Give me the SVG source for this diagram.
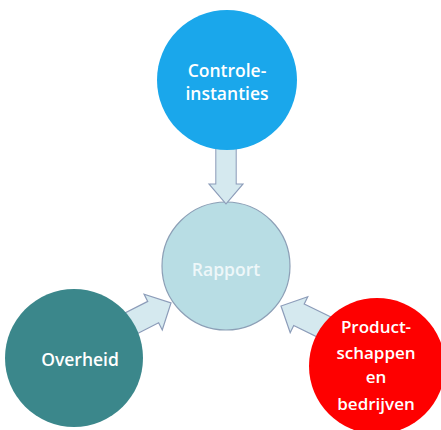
<svg xmlns="http://www.w3.org/2000/svg" width="441" height="430" viewBox="0 0 441 430">
  <defs>
    <!-- block arrow pointing along +x, tip at origin -->
    <polygon id="arrowShape" points="-60,-12 -20,-12 -20,-20 0,0 -20,20 -20,12 -60,12"/>
    <style>
      .arrow { fill: #d5e9ef; stroke: #8c9cb9; stroke-width: 1.2; stroke-linejoin: miter; }
      .lbl { font-family: "Open Sans", "DejaVu Sans", sans-serif; font-weight: 600; font-size: 17.5px; fill: #ffffff; text-anchor: middle; }
      .small { font-size: 17px; }
    </style>
  </defs>
  <rect width="441" height="430" fill="#ffffff"/>

  <g id="rapport">
    <circle cx="226" cy="266" r="64" fill="#b8dde4" stroke="#8c9fb6" stroke-width="1.2"/>
    <text class="lbl" x="226" y="276" style="fill:#eef7f9">Rapport</text>
  </g>

  <g id="connectors">
    <use href="#arrowShape" class="arrow" transform="translate(226,204) rotate(90) scale(1,0.85)"/>
    <use href="#arrowShape" class="arrow" transform="translate(171,303) rotate(-27)"/>
    <use href="#arrowShape" class="arrow" transform="translate(281,306) rotate(206)"/>
  </g>

  <g id="controle">
    <circle cx="227" cy="80" r="70" fill="#1aa7eb"/>
    <text class="lbl" x="227" y="77">Controle-</text>
    <text class="lbl" x="227" y="100">instanties</text>
  </g>

  <g id="overheid">
    <circle cx="74" cy="358" r="69" fill="#3b878b"/>
    <text class="lbl" x="80" y="366">Overheid</text>
  </g>

  <g id="bedrijven">
    <circle cx="377" cy="366" r="68" fill="#fe0000"/>
    <text class="lbl small" x="376" y="333">Product-</text>
    <text class="lbl small" x="376" y="359">schappen</text>
    <text class="lbl small" x="376" y="383">en</text>
    <text class="lbl small" x="376" y="410">bedrijven</text>
  </g>
</svg>
